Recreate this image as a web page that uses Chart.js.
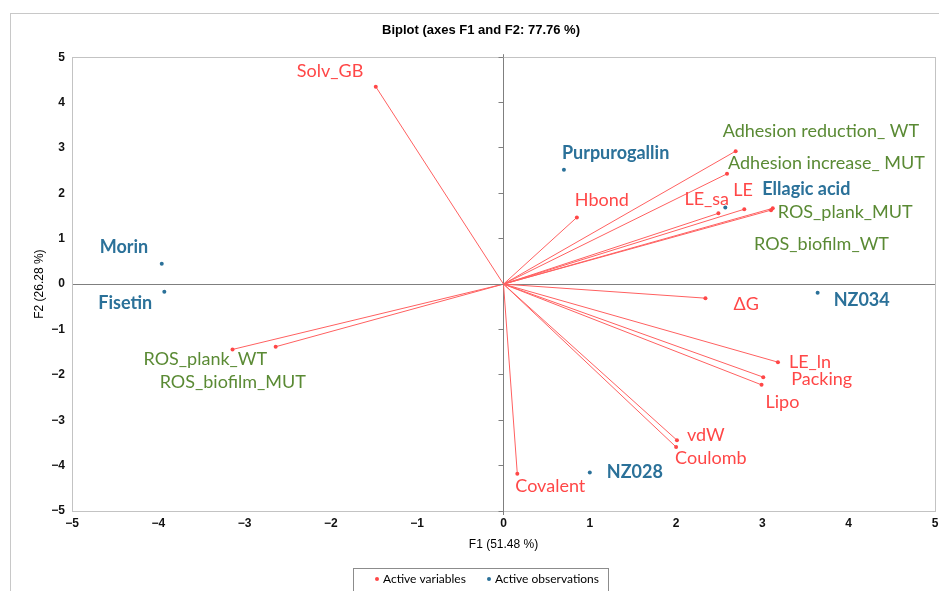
<!DOCTYPE html>
<html>
<head>
<meta charset="utf-8">
<title>Biplot</title>
<script src="https://cdn.jsdelivr.net/npm/chart.js@4.4.1/dist/chart.umd.min.js"></script>
<style>
  html, body { margin: 0; padding: 0; background: #fff; }
</style>
</head>
<body>
<canvas id="biplot" width="939" height="591"></canvas>
<script>
// active variables (F1, F2)
const varNames = ["Solv_GB", "Hbond", "Adhesion reduction_ WT", "Adhesion increase_ MUT", "LE_sa", "LE",
  "ROS_plank_MUT", "ROS_biofilm_WT", "ROS_plank_WT", "ROS_biofilm_MUT", "\u0394G", "LE_ln",
  "Packing", "Lipo", "vdW", "Coulomb", "Covalent"];
const varF1 = [-1.48, 0.85, 2.69, 2.59, 2.49, 2.79, 3.12, 3.10, -3.14, -2.64, 2.34, 3.18, 3.01, 2.99, 2.01, 2.00, 0.16];
const varF2 = [4.35, 1.47, 2.93, 2.43, 1.56, 1.65, 1.67, 1.63, -1.44, -1.38, -0.31, -1.72, -2.05, -2.22, -3.44, -3.59, -4.18];

// active observations (F1, F2)
const obsNames = ["Purpurogallin", "Ellagic acid", "Morin", "Fisetin", "NZ034", "NZ028"];
const obsF1 = [0.70, 2.57, -3.96, -3.93, 3.64, 1.00];
const obsF2 = [2.52, 1.69, 0.45, -0.17, -0.19, -4.15];

const axisMin = -5;
const axisMax = 5;
const legendLabels = ["Active variables", "Active observations"];

// label styling (pixel offsets from each point, colours)
const greenVars = ["Adhesion reduction_ WT", "Adhesion increase_ MUT", "ROS_plank_MUT", "ROS_biofilm_WT", "ROS_plank_WT", "ROS_biofilm_MUT"];
const varLabelOffsets = [[-79, -16], [-2, -17], [-13, -20], [1, -11], [-34, -14], [-11, -19], [5, 4], [-17, 34],
  [-89, 10], [-116, 35], [28, 6], [11, 0], [28, 2], [4, 17], [10, -5], [-1, 11], [-2, 12]];
const obsLabelOffsets = [[-2, -17], [37, -18], [-62, -16], [-66, 11], [16, 7], [17, 0]];

const RED = "#ff4747";
const GREEN = "#5a8a34";
const BLUE = "#2b7199";
const LABEL_FONT = "Lato, 'Open Sans', sans-serif";

const varPoints = varF1.map((x, i) => ({ x: x, y: varF2[i] }));
const obsPoints = obsF1.map((x, i) => ({ x: x, y: obsF2[i] }));

// one line dataset, origin -> variable, broken by gaps
const arrows = [];
varF1.forEach((x, i) => {
  arrows.push({ x: 0, y: 0 }, { x: x, y: varF2[i] }, { x: x, y: null });
});

const fmt = v => String(v).replace("-", "\u2212");
const crisp = p => Math.round(p - 0.5) + 0.5;

const framePlugin = {
  id: "frame",
  beforeDraw(chart) {
    const ctx = chart.ctx;
    ctx.save();
    ctx.strokeStyle = "#c8c8c8";
    ctx.lineWidth = 1;
    ctx.strokeRect(10.5, 13.5, 1200, 1200);
    ctx.restore();
  },
  afterDraw(chart) {
    const { ctx, chartArea: a, scales } = chart;
    ctx.save();
    ctx.strokeStyle = "#c3c3c3";
    ctx.lineWidth = 1;
    ctx.strokeRect(crisp(a.left), crisp(a.top), Math.round(a.right - a.left), Math.round(a.bottom - a.top));
    // tick marks on the vertical zero axis
    const x0 = crisp(scales.x.getPixelForValue(0));
    ctx.strokeStyle = "#7f7f7f";
    ctx.beginPath();
    scales.y.ticks.forEach(t => {
      const y = crisp(scales.y.getPixelForValue(t.value));
      ctx.moveTo(x0 - 5, y);
      ctx.lineTo(x0, y);
    });
    ctx.moveTo(x0, a.top - 3);
    ctx.lineTo(x0, a.top);
    ctx.moveTo(x0, a.bottom);
    ctx.lineTo(x0, a.bottom + 4);
    ctx.stroke();

    // legend
    const lx = 353.5, ly = 568.5;
    ctx.strokeStyle = "#8c8c8c";
    ctx.strokeRect(lx, ly, 255, 40);
    ctx.font = "12px " + LABEL_FONT;
    ctx.textBaseline = "middle";
    ctx.textAlign = "left";
    const cols = [RED, BLUE];
    const starts = [377, 489];
    legendLabels.forEach((txt, i) => {
      ctx.fillStyle = cols[i];
      ctx.beginPath();
      ctx.arc(starts[i], 579, 2, 0, Math.PI * 2);
      ctx.fill();
      ctx.fillStyle = "#000";
      ctx.fillText(txt, starts[i] + 6, 579);
    });
    ctx.restore();
  },
  afterDatasetsDraw(chart) {
    const ctx = chart.ctx;
    ctx.save();
    ctx.textBaseline = "middle";
    ctx.textAlign = "left";
    ctx.font = "18px " + LABEL_FONT;
    chart.getDatasetMeta(0).data.forEach((pt, i) => {
      ctx.fillStyle = greenVars.includes(varNames[i]) ? GREEN : RED;
      ctx.fillText(varNames[i], pt.x + varLabelOffsets[i][0], pt.y + varLabelOffsets[i][1]);
    });
    ctx.font = "bold 18px " + LABEL_FONT;
    ctx.fillStyle = BLUE;
    chart.getDatasetMeta(1).data.forEach((pt, i) => {
      ctx.fillText(obsNames[i], pt.x + obsLabelOffsets[i][0], pt.y + obsLabelOffsets[i][1]);
    });
    ctx.restore();
  }
};

const tickFont = { family: "'Liberation Sans', Arial, sans-serif", size: 12, weight: "bold" };
const titleFont = { family: "'Liberation Sans', Arial, sans-serif", size: 12 };
const zeroGrid = c => (c.tick && c.tick.value === 0 ? "#7f7f7f" : "rgba(0,0,0,0)");

new Chart(document.getElementById("biplot"), {
  type: "scatter",
  data: {
    datasets: [
      {
        label: legendLabels[0],
        data: varPoints,
        backgroundColor: RED,
        borderColor: RED,
        pointRadius: 2,
        borderWidth: 0
      },
      {
        label: legendLabels[1],
        data: obsPoints,
        backgroundColor: BLUE,
        borderColor: BLUE,
        pointRadius: 2,
        borderWidth: 0
      },
      {
        type: "line",
        label: "arrows",
        data: arrows,
        borderColor: "#ff6060",
        borderWidth: 1,
        pointRadius: 0,
        spanGaps: false,
        fill: false,
        tension: 0
      }
    ]
  },
  options: {
    responsive: false,
    animation: false,
    layout: { padding: { left: 24, right: 1, top: 13, bottom: 0 } },
    plugins: {
      legend: { display: false },
      tooltip: { enabled: false },
      title: {
        display: true,
        text: "Biplot (axes F1 and F2: 77.76 %)",
        color: "#000",
        font: { family: "'Liberation Sans', Arial, sans-serif", size: 13, weight: "bold" },
        padding: { top: 10, bottom: 18.6 }
      }
    },
    scales: {
      x: {
        type: "linear",
        min: axisMin,
        max: axisMax,
        ticks: { stepSize: 1, color: "#111", font: tickFont, padding: 5, callback: fmt },
        grid: { color: zeroGrid, drawTicks: false },
        border: { display: false },
        title: { display: true, text: "F1 (51.48 %)", color: "#000", font: titleFont, padding: { top: 4, bottom: 38.8 } },
        afterFit: s => { s.height = 80; s.paddingLeft = 0; s.paddingRight = 0; }
      },
      y: {
        type: "linear",
        min: axisMin,
        max: axisMax,
        ticks: { stepSize: 1, color: "#111", font: tickFont, padding: 7, callback: fmt },
        grid: { color: zeroGrid, drawTicks: false },
        border: { display: false },
        title: { display: true, text: "F2 (26.28 %)", color: "#000", font: titleFont, padding: { top: 8, bottom: 4 } },
        afterFit: s => { s.width = 48; s.paddingTop = 0; s.paddingBottom = 0; }
      }
    }
  },
  plugins: [framePlugin]
});
</script>
</body>
</html>
